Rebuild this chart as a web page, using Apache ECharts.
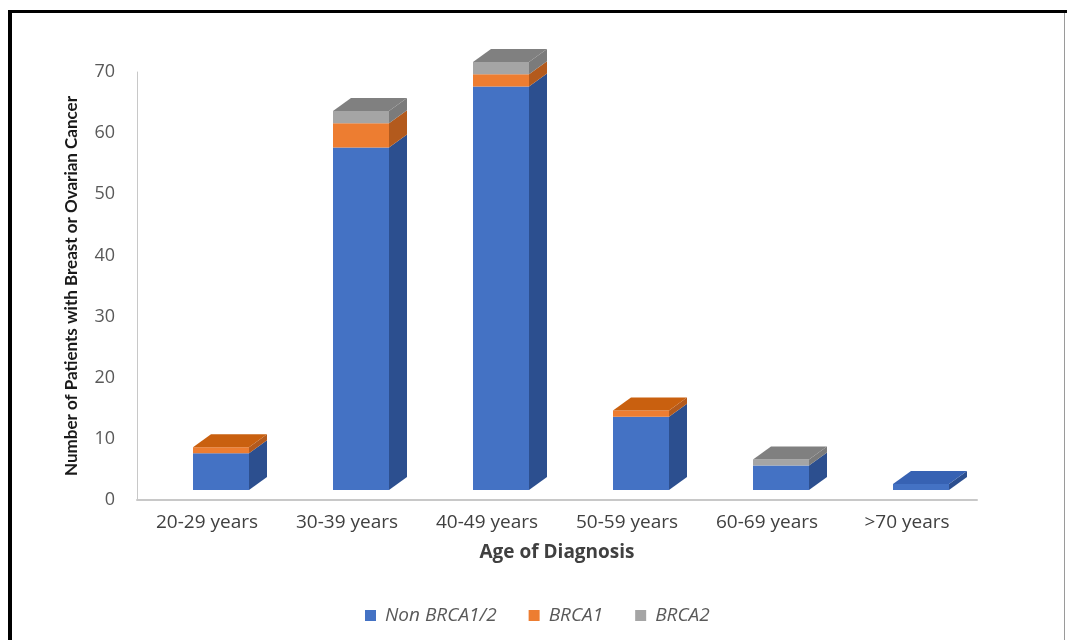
<!DOCTYPE html>
<html>
<head>
<meta charset="utf-8">
<script src="https://cdn.jsdelivr.net/npm/echarts@6/dist/echarts.min.js"></script>
<style>
  html, body { margin: 0; padding: 0; background: #fff; }
  #chart { width: 1067px; height: 640px; }
</style>
</head>
<body>
<div id="chart"></div>
<script>
// Patients by age at diagnosis, split by BRCA status
const categories = ['20-29 years', '30-39 years', '40-49 years', '50-59 years', '60-69 years', '>70 years'];
const nonBrca = [6, 56, 66, 12, 4, 1];
const brca1   = [1, 4, 2, 1, 0, 0];
const brca2   = [0, 2, 2, 0, 1, 0];
const seriesNames = ['Non BRCA1/2', 'BRCA1', 'BRCA2'];
const yTicks = [0, 70, 10]; // min, max, interval

const stacks = [nonBrca, brca1, brca2];
const faceColors = ['#4472C4', '#ED7D31', '#A5A5A5'];
const sideColors = ['#2C4F8F', '#B35A1D', '#7B7B7B'];
const topColors  = ['#3762B3', '#C9600F', '#808080'];

const FONT = '"Open Sans", Lato, sans-serif';

// oblique projection of each column: depth offset and lift off the floor edge
const DEPTH_X = 18, DEPTH_Y = -13, LIFT = 10;

function makeRender(k) {
  return function (params, api) {
    const i = api.value(0);
    const v = stacks[k][i];
    if (!v) return null;
    let base = 0;
    for (let s = 0; s < k; s++) base += stacks[s][i];
    const top = base + v;
    let isTop = true;
    for (let s = k + 1; s < stacks.length; s++) if (stacks[s][i]) isTop = false;

    const band = api.size([1, 0])[0];
    const w = band * 0.4;
    const shift = band * 0.1;
    const pb = api.coord([i, base]);
    const pt = api.coord([i, top]);
    const x0 = pb[0] + shift - w / 2, x1 = x0 + w;
    const yb = pb[1] - LIFT, yt = pt[1] - LIFT;

    const children = [
      { type: 'rect', shape: { x: x0, y: yt, width: w, height: yb - yt },
        style: { fill: faceColors[k] } },
      { type: 'polygon', shape: { points: [[x1, yt], [x1 + DEPTH_X, yt + DEPTH_Y], [x1 + DEPTH_X, yb + DEPTH_Y], [x1, yb]] },
        style: { fill: sideColors[k] } }
    ];
    if (isTop) {
      children.push({ type: 'polygon',
        shape: { points: [[x0, yt], [x0 + DEPTH_X, yt + DEPTH_Y], [x1 + DEPTH_X, yt + DEPTH_Y], [x1, yt]] },
        style: { fill: topColors[k] } });
    }
    return { type: 'group', children: children };
  };
}

const chart = echarts.init(document.getElementById('chart'), null, { renderer: 'canvas' });

const series = seriesNames.map(function (name, k) {
  return {
    name: name,
    type: 'custom',
    renderItem: makeRender(k),
    itemStyle: { color: faceColors[k] },
    encode: { x: 0, y: 1 },
    data: categories.map(function (c, i) { return [i, stacks[k][i]]; })
  };
});

chart.setOption({
  animation: false,
  backgroundColor: '#ffffff',
  textStyle: { fontFamily: FONT },
  grid: { left: 137, right: 90, top: 72, bottom: 140 },
  xAxis: {
    type: 'category',
    data: categories,
    name: 'Age of Diagnosis',
    nameLocation: 'middle',
    nameGap: 43,
    nameTextStyle: { fontSize: 19, fontWeight: 'bold', color: '#404040', fontFamily: FONT },
    axisLine: { lineStyle: { color: '#C8C8C8', width: 2 } },
    axisTick: { show: false },
    axisLabel: { fontSize: 19, color: '#404040', margin: 13, fontFamily: FONT },
    splitLine: { show: false }
  },
  yAxis: {
    type: 'value',
    min: yTicks[0],
    max: yTicks[1],
    interval: yTicks[2],
    name: 'Number of Patients with Breast or Ovarian Cancer',
    nameLocation: 'middle',
    nameRotate: 90,
    nameGap: 57,
    nameTextStyle: { fontSize: 17, fontWeight: 'bold', color: '#1A1A1A', fontFamily: 'Lato' },
    axisLine: { show: true, lineStyle: { color: '#C8C8C8', width: 1 } },
    axisTick: { show: false },
    axisLabel: { fontSize: 18, color: '#595959', margin: 22, fontFamily: FONT },
    splitLine: { show: false }
  },
  legend: {
    data: seriesNames,
    left: 360,
    top: 601,
    icon: 'rect',
    itemWidth: 11,
    itemHeight: 11,
    itemGap: 32,
    textStyle: { fontSize: 19, fontStyle: 'italic', color: '#595959', fontFamily: FONT, padding: [0, 0, 0, 4] }
  },
  graphic: [
    { type: 'rect', shape: { x: 8, y: 10, width: 4, height: 640 }, style: { fill: '#000' }, silent: true },
    { type: 'rect', shape: { x: 8, y: 10, width: 1067, height: 3 }, style: { fill: '#000' }, silent: true },
    { type: 'rect', shape: { x: 1064, y: 13, width: 1, height: 627 }, style: { fill: '#9A9A9A' }, silent: true }
  ],
  series: series
});
</script>
</body>
</html>
